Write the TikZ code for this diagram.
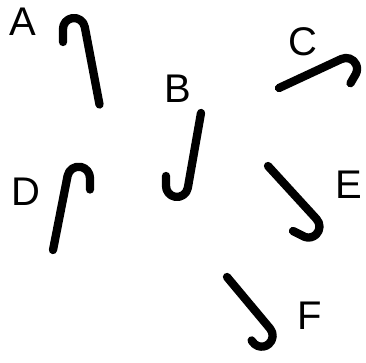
\documentclass[tikz,border=0pt]{standalone}
\usepackage{fontspec}
\setmainfont{Liberation Sans}
\begin{document}
\begin{tikzpicture}[x=1pt,y=1pt,
  cane/.style={line width=8.3pt, line cap=round, line join=round},
  lbl/.style={font=\fontsize{40}{48}\selectfont, inner sep=0pt, anchor=center}]
\useasboundingbox (0,0) rectangle (366,362);
% labels
\node[lbl] (la) at (22.5,340.5) {A};
\node[lbl] (lb) at (178.3,273) {B};
\node[lbl] (lc) at (303.3,320.3) {C};
\node[lbl] (ld) at (25.8,170.3) {D};
\node[lbl] (le) at (349,177) {E};
\node[lbl] (lf) at (309.7,46.2) {F};
% canes
\draw[cane] (99.5,257.5) -- (84.8,334.9) arc[start angle=10, end angle=180, radius=11] -- (63,320);
\draw[cane] (201,249) -- (187.8,174) arc[start angle=-10.7, end angle=-180, radius=11] -- (166,186);
\draw[cane] (279,274) -- (341.4,303) arc[start angle=115, end angle=-30, radius=11] -- (350.5,278.8);
\draw[cane] (53,112) -- (67.6,186.2) arc[start angle=168.7, end angle=0, radius=11.3] -- (90,172.5);
\draw[cane] (268,196) -- (316.5,143.0) arc[start angle=43.3, end angle=-110, radius=11] -- (293,131);
\draw[cane] (227,85) -- (270.1,33.4) arc[start angle=40, end angle=-145, radius=11] -- (251.6,21.6);
\end{tikzpicture}
\end{document}
